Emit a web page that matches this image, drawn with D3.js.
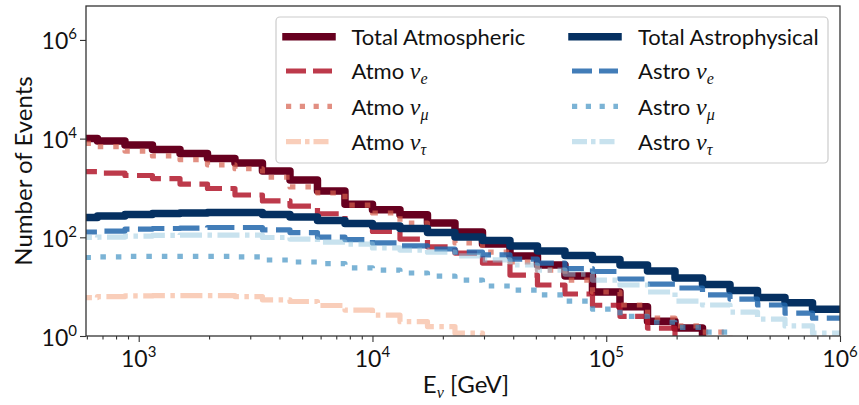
<!DOCTYPE html>
<html><head><meta charset="utf-8">
<script src="https://cdn.jsdelivr.net/npm/d3@7"></script>
<style>
html,body{margin:0;padding:0;background:#fff;}
svg text{font-family:Lato,"Open Sans",sans-serif;fill:#111;}
</style></head>
<body><svg id="chart" width="859" height="405"></svg>
<script>
// ---- data ----
const binEdges = [507.9, 666.1, 873.4, 1145, 1502, 1969, 2581, 3383, 4437, 5817, 7626, 10000, 13111, 17190, 22539, 29551, 38745, 50794, 66606, 87333, 114505, 150137, 196855, 258107, 338437, 443734, 581811, 762836, 1000000];
const totalAtmo  = [10000, 8900, 7400, 6000, 5000, 3950, 3200, 2200, 1450, 870, 470, 360, 285, 195, 128, 73, 42, 27.5, 16.5, 7.8, 3.9, 2.0, 1.45, 0, 0, 0, 0, 0];
const atmoE      = [2150, 2000, 1790, 1550, 1200, 975, 720, 545, 430, 300, 186, 131, 92, 64, 48, 30, 17.2, 10.8, 7.1, 4.2, 2.5, 1.45, 0, 0, 0, 0, 0, 0];
const atmoMu     = [8000, 6900, 5600, 4450, 3750, 2950, 2450, 1650, 1050, 790, 451, 311, 195, 122, 77, 50, 31.6, 21.7, 13.6, 7.8, 4.25, 2.3, 1.6, 1.2, 0, 0, 0, 0];
const atmoTau    = [6.0, 6.3, 6.5, 6.6, 6.6, 6.6, 6.3, 5.4, 5.0, 4.15, 3.35, 2.65, 1.95, 1.55, 1.15, 0, 0, 0, 0, 0, 0, 0, 0, 0, 0, 0, 0, 0];
const totalAstro = [252, 270, 290, 304, 311, 318, 318, 290, 258, 219, 190, 169, 151, 125, 101, 86, 66.6, 52.7, 42.8, 35.5, 27.5, 20.8, 15.0, 11.1, 8.4, 6.0, 4.7, 3.5];
const astroE     = [128, 134, 147, 151, 154, 158, 158, 141, 125, 101, 90, 77, 67, 58, 50, 44, 36, 30, 23.3, 20.3, 14.3, 11.3, 9.4, 6.8, 5.6, 4.25, 2.9, 2.3];
const astroMu    = [39, 40, 41, 41, 41, 41, 40, 34.7, 31.6, 29.4, 24, 21.7, 18.9, 16.4, 13.6, 10.3, 8.5, 6.8, 5.1, 3.5, 2.5, 1.9, 1.5, 1.2, 0, 0, 0, 0];
const astroTau   = [99, 101, 106, 109, 111, 111, 111, 99, 92, 80, 73, 61, 55, 50, 42, 35, 27.5, 21.7, 18, 13.6, 10.8, 7.8, 5.1, 4.25, 3.06, 2.2, 1.6, 1.15];
const xTickValues = [1e3, 1e4, 1e5, 1e6];
const xTickExps = ["3", "4", "5", "6"];
const yTickValues = [1, 1e2, 1e4, 1e6];
const yTickExps = ["0", "2", "4", "6"];

const styles = {
  solid:   {chart:null, legend:null},
  dashed:  {chart:"27,8.5", legend:"20,7"},
  dotted:  {chart:"5.5,10", legend:"5.2,8.6"},
  dashdot: {chart:"22,5.5,4.5,5.5", legend:"15,4,4.5,4"}
};
const series = [
  {base:"Total Atmospheric", sub:null, values: totalAtmo, color:"#67001f", opacity:1, width:7.5, ls:"solid"},
  {base:"Atmo ", sub:"e", values: atmoE, color:"#b2182b", opacity:0.85, width:5.2, ls:"dashed"},
  {base:"Atmo ", sub:"\u03bc", values: atmoMu, color:"#d6604d", opacity:0.7, width:5.2, ls:"dotted"},
  {base:"Atmo ", sub:"\u03c4", values: atmoTau, color:"#f4a582", opacity:0.55, width:5.2, ls:"dashdot"},
  {base:"Total Astrophysical", sub:null, values: totalAstro, color:"#053061", opacity:1, width:7.5, ls:"solid"},
  {base:"Astro ", sub:"e", values: astroE, color:"#2166ac", opacity:0.85, width:5.2, ls:"dashed"},
  {base:"Astro ", sub:"\u03bc", values: astroMu, color:"#4393c3", opacity:0.7, width:5.2, ls:"dotted"},
  {base:"Astro ", sub:"\u03c4", values: astroTau, color:"#92c5de", opacity:0.5, width:5.2, ls:"dashdot"}
];

// ---- layout ----
const svg = d3.select("#chart");
const L = 86, R = 840, T = 6, B = 336;
const x = d3.scaleLog().domain([595, 1e6]).range([L, R]);
const y = d3.scaleLog().domain([1, 4.87e6]).range([B, T]);
const axisColor = "#333";

svg.append("defs").append("clipPath").attr("id","clip")
  .append("rect").attr("x",L).attr("y",T).attr("width",R-L).attr("height",B-T);

// lines
const floorV = 1e-3;
const line = d3.line()
  .x(d => x(d[0]))
  .y(d => y(Math.max(d[1], floorV)))
  .curve(d3.curveStepAfter);

const gLines = svg.append("g").attr("clip-path","url(#clip)");
series.forEach(s => {
  const pts = s.values.map((v,i) => [binEdges[i], v]);
  pts.push([binEdges[binEdges.length-1], s.values[s.values.length-1]]);
  const dash = styles[s.ls].chart;
  const p = gLines.append("path")
    .attr("d", line(pts))
    .attr("fill","none")
    .attr("stroke", s.color)
    .attr("stroke-opacity", s.opacity)
    .attr("stroke-width", s.width)
    .attr("stroke-linejoin","round")
    .attr("stroke-linecap", dash ? "butt" : "square");
  if (dash) p.attr("stroke-dasharray", dash);
});

// axes
const xMinor = [];
for (let e = 2; e <= 5; e++) for (let m = 2; m <= 9; m++) { const v = m*Math.pow(10,e); if (v >= 595 && v <= 1e6) xMinor.push(v); }
const gxMinor = svg.append("g").attr("transform",`translate(0,${B})`)
  .call(d3.axisBottom(x).tickValues(xMinor).tickSize(3.5).tickFormat(""));
const gx = svg.append("g").attr("transform",`translate(0,${B})`)
  .call(d3.axisBottom(x).tickValues(xTickValues).tickSize(6).tickFormat(""));
const gy = svg.append("g").attr("transform",`translate(${L},0)`)
  .call(d3.axisLeft(y).tickValues(yTickValues).tickSize(6).tickFormat(""));
[gxMinor, gx, gy].forEach(g => {
  g.select(".domain").remove();
  g.selectAll(".tick line").attr("stroke", axisColor).attr("stroke-width", 1.1);
});

// frame
svg.append("rect").attr("x",L).attr("y",T).attr("width",R-L).attr("height",B-T)
  .attr("fill","none").attr("stroke",axisColor).attr("stroke-width",1.3);

// tick labels
xTickValues.forEach((v,i) => {
  const t = svg.append("text").attr("x", x(v)).attr("y", 367).attr("text-anchor","middle").attr("font-size",23);
  t.append("tspan").text("10");
  t.append("tspan").attr("dy",-10).attr("font-size",15).text(xTickExps[i]);
});
yTickValues.forEach((v,i) => {
  const t = svg.append("text").attr("x", 77).attr("y", y(v)+9.5).attr("text-anchor","end").attr("font-size",23);
  t.append("tspan").text("10");
  t.append("tspan").attr("dy",-10).attr("font-size",15).text(yTickExps[i]);
});

// axis labels
const xl = svg.append("text").attr("x",(L+R)/2 + 3).attr("y",393).attr("text-anchor","middle").attr("font-size",24);
xl.append("tspan").text("E");
xl.append("tspan").attr("dy",5).attr("font-size",16).attr("font-style","italic").style("font-family","'Liberation Serif',serif").text("\u03bd");
xl.append("tspan").attr("dy",-5).text(" [GeV]");
svg.append("text").attr("transform",`translate(32,${(T+B)/2}) rotate(-90)`)
  .attr("text-anchor","middle").attr("font-size",24).text("Number of Events");

// legend
const lg = svg.append("g");
lg.append("rect").attr("x",276).attr("y",17).attr("width",552).attr("height",146).attr("rx",4)
  .attr("fill","#fff").attr("fill-opacity",0.8).attr("stroke","#cccccc").attr("stroke-width",1.2);
const rowY = [36.7, 71, 106.3, 141.7];
const cols = [{hx:286, tx:351.5}, {hx:572, tx:638}];
series.forEach((s,i) => {
  const c = cols[Math.floor(i/4)], ry = rowY[i%4];
  const dash = styles[s.ls].legend;
  const h = lg.append("line").attr("x1",c.hx).attr("x2",c.hx+46).attr("y1",ry).attr("y2",ry)
    .attr("stroke",s.color).attr("stroke-opacity",s.opacity).attr("stroke-width",s.width)
    .attr("stroke-linecap", dash ? "butt" : "square");
  if (dash) h.attr("stroke-dasharray", dash);
  const t = lg.append("text").attr("x",c.tx).attr("y",ry+8.3).attr("font-size",22);
  t.append("tspan").text(s.base);
  if (s.sub) {
    t.append("tspan").attr("font-style","italic").style("font-family","'Liberation Serif',serif").attr("font-size",24).text("\u03bd");
    t.append("tspan").attr("dy",5).attr("font-style","italic").style("font-family","'Liberation Serif',serif").attr("font-size",16).text(s.sub);
  }
});
</script></body></html>
